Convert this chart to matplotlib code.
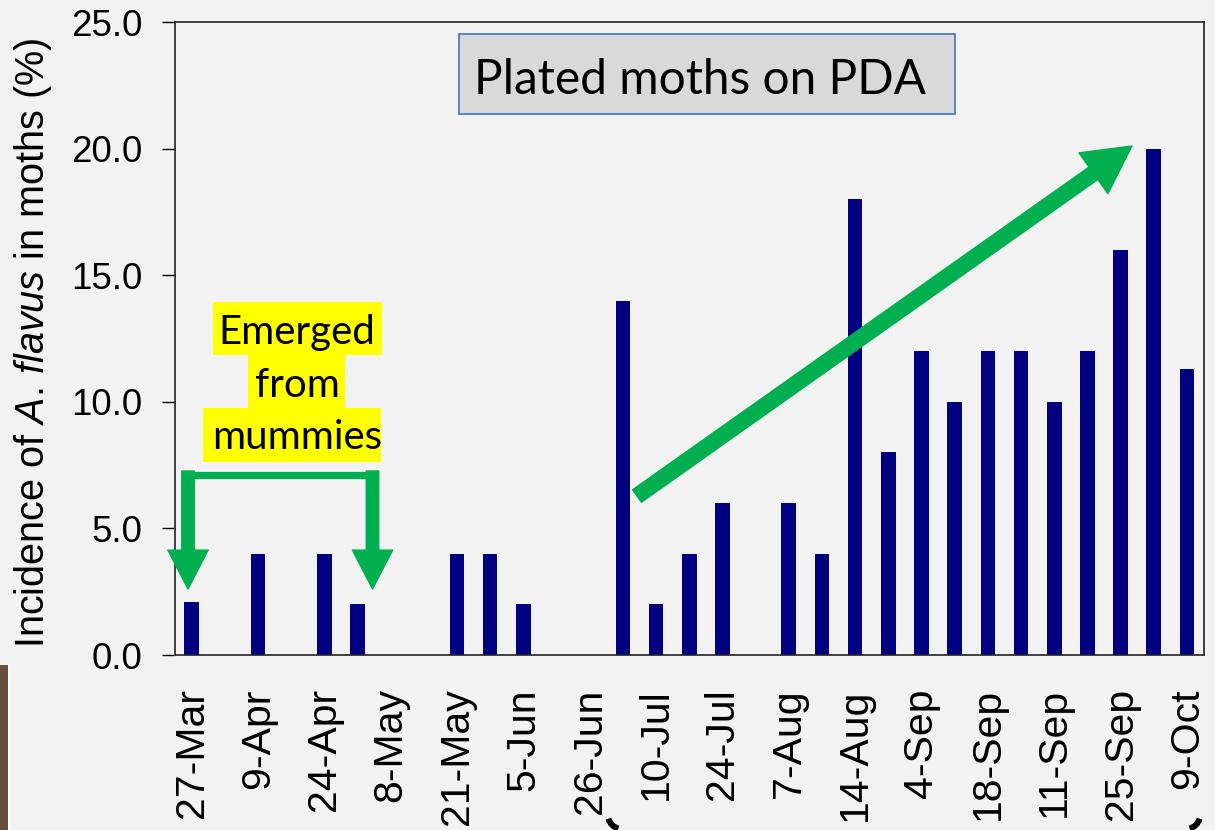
import matplotlib
matplotlib.use("Agg")
import matplotlib.pyplot as plt
import matplotlib.patches as mpatches
import matplotlib.transforms as mtransforms
import numpy as np

# one value per sampling slot (0 = no moths positive / not sampled)
incidence = [2.1, 0, 4.0, 0, 4.0, 2.0, 0, 0, 4.0, 4.0, 2.0, 0, 0, 14.0, 2.0,
             4.0, 6.0, 0, 6.0, 4.0, 18.0, 8.0, 12.0, 10.0, 12.0, 12.0, 10.0,
             12.0, 16.0, 20.0, 11.3]
# labels shown under every other slot
tick_labels = ["27-Mar", "9-Apr", "24-Apr", "8-May", "21-May", "5-Jun",
               "26-Jun", "10-Jul", "24-Jul", "7-Aug", "14-Aug", "4-Sep",
               "18-Sep", "11-Sep", "25-Sep", "9-Oct"]

BG = "#f2f2f2"
NAVY = "#000080"
GREEN = "#00b050"

plt.rcParams["font.family"] = ["Liberation Sans", "DejaVu Sans"]
plt.rcParams["mathtext.fontset"] = "custom"
plt.rcParams["mathtext.it"] = "Liberation Sans:italic"
plt.rcParams["mathtext.rm"] = "Liberation Sans"

W, H = 1215, 830
fig = plt.figure(figsize=(W / 100, H / 100), dpi=100, facecolor=BG)
L, R, T, B = 175, 1203.5, 22, 655
ax = fig.add_axes([L / W, 1 - B / H, (R - L) / W, (B - T) / H])
ax.set_facecolor(BG)

x = np.arange(len(incidence))
ax.bar(x, incidence, width=0.44, color=NAVY, zorder=2)

ax.set_xlim(-0.5, len(incidence) - 0.5)
ax.set_ylim(0, 25)
ax.set_yticks(np.arange(0, 25.1, 5))
ax.set_yticklabels([f"{v:.1f}" for v in np.arange(0, 25.1, 5)], fontsize=26.5)
ax.set_xticks(x[::2])
ax.set_xticklabels(tick_labels, rotation=90, fontsize=29.5, va="top")
ax.tick_params(axis="x", length=0, pad=24)
ax.tick_params(axis="y", direction="out", length=9.5, width=1, pad=14)
for sp in ax.spines.values():
    sp.set_linewidth(1.2)
    sp.set_color("#222222")

fig.text(33 / W, 1 - 343 / H,
         r"Incidence of $\mathit{A.\,flavus}$ in moths (%)",
         rotation=90, ha="center", va="center", fontsize=28.5)


def px(xp, yp):
    """image pixel -> axes data coords"""
    return ((xp - L) / (R - L) * len(incidence) - 0.5, (B - yp) / (B - T) * 25)


# title box
ax.add_patch(mpatches.Rectangle(((459 - L) / (R - L), (B - 114) / (B - T)),
                                (955 - 459) / (R - L), 80 / (B - T),
                                transform=ax.transAxes, facecolor="#d9d9d9",
                                edgecolor="#4472c4", lw=1.2, zorder=3))
ax.text((700 - L) / (R - L), (B - 94) / (B - T), "Plated moths on PDA",
        transform=ax.transAxes, ha="center", va="baseline", fontsize=34.5,
        family=["Lato", "DejaVu Sans"], zorder=4)

# yellow highlighted note
note = [("Emerged", 213, 382, 302, 355, 344),
        ("from", 248, 345, 355, 408, 397),
        ("mummies", 203, 381, 408, 462, 449)]
for word, x0, x1, y0, y1, base in note:
    ax.add_patch(mpatches.Rectangle(((x0 - L) / (R - L), (B - y1) / (B - T)),
                                    (x1 - x0) / (R - L), (y1 - y0) / (B - T),
                                    transform=ax.transAxes, facecolor="#ffff00",
                                    edgecolor="none", zorder=3))
    ax.text((297 - L) / (R - L), (B - base) / (B - T), word,
            transform=ax.transAxes, ha="center", va="baseline", fontsize=29,
            family=["Lato", "DejaVu Sans"], zorder=4)

# green bracket with two down arrows
xa, ya = px(188, 475)
xb, _ = px(372.5, 475)
ax.plot([xa, xb], [ya, ya], color=GREEN, lw=5.2, solid_capstyle="projecting",
        zorder=3)
for xc in (xa, xb):
    ax.annotate("", xy=(xc, px(0, 589)[1]), xytext=(xc, px(0, 471)[1]),
                arrowprops=dict(arrowstyle="simple,head_length=28,head_width=29,tail_width=9",
                                mutation_scale=1, color=GREEN, shrinkA=0, shrinkB=0),
                zorder=3)

# big trend arrow
ax.annotate("", xy=px(1132, 146), xytext=px(637, 496),
            arrowprops=dict(arrowstyle="simple,head_length=34,head_width=36,tail_width=11",
                            mutation_scale=1, color=GREEN, shrinkA=0, shrinkB=0),
            zorder=3)

# slide leftovers at the edges
fig.patches.append(mpatches.Rectangle((0, 0), 8 / W, 165 / H,
                                      transform=fig.transFigure,
                                      facecolor="#6b4f3a", edgecolor="none"))
fig.patches.append(mpatches.Rectangle((8 / W, 0), 1.5 / W, 165 / H,
                                      transform=fig.transFigure,
                                      facecolor="white", edgecolor="none"))
pix = mtransforms.IdentityTransform()
fig.patches.append(mpatches.Arc((622, H - 815), 28, 28, theta1=195, theta2=255,
                                transform=pix, color="black", lw=4.3))
fig.patches.append(mpatches.Arc((1186, H - 815), 28, 28, theta1=285, theta2=345,
                                transform=pix, color="black", lw=4.3))

fig.savefig("out.png", dpi=100, facecolor=BG)
